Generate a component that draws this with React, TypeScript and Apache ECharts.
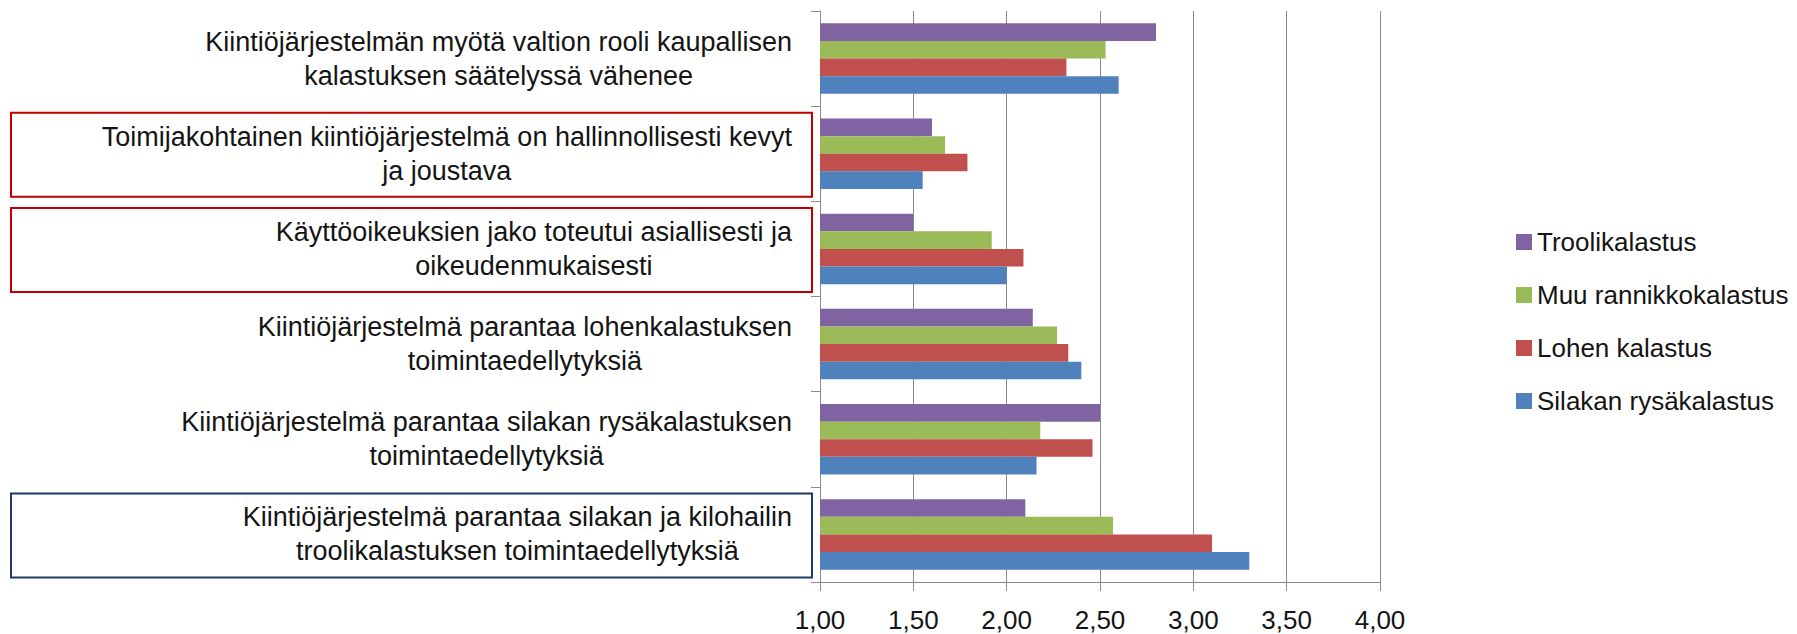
import React, { useEffect, useRef } from 'react';
import * as echarts from 'echarts';

const categories = [
  'Kiintiöjärjestelmän myötä valtion rooli kaupallisen\nkalastuksen säätelyssä vähenee',
  'Toimijakohtainen kiintiöjärjestelmä on hallinnollisesti kevyt\nja joustava',
  'Käyttöoikeuksien jako toteutui asiallisesti ja\noikeudenmukaisesti',
  'Kiintiöjärjestelmä parantaa lohenkalastuksen\ntoimintaedellytyksiä',
  'Kiintiöjärjestelmä parantaa silakan rysäkalastuksen\ntoimintaedellytyksiä',
  'Kiintiöjärjestelmä parantaa silakan ja kilohailin\ntroolikalastuksen toimintaedellytyksiä',
];

const seriesNames = ['Troolikalastus', 'Muu rannikkokalastus', 'Lohen kalastus', 'Silakan rysäkalastus'];
const troolikalastus = [2.8, 1.6, 1.5, 2.14, 2.5, 2.1];
const muuRannikkokalastus = [2.53, 1.67, 1.92, 2.27, 2.18, 2.57];
const lohenKalastus = [2.32, 1.79, 2.09, 2.33, 2.46, 3.1];
const silakanRysakalastus = [2.6, 1.55, 2.0, 2.4, 2.16, 3.3];

const axisMin = 1;
const axisMax = 4;
const axisInterval = 0.5;

const redBoxed = [1, 2];
const navyBoxed = [5];

const colors = ['#8064A2', '#9BBB59', '#C0504D', '#4F81BD'];
const FONT = "'Liberation Sans', Arial, sans-serif";

export default function App() {
  const ref = useRef<HTMLDivElement>(null);
  useEffect(() => {
    if (!ref.current) return;
    const chart = echarts.init(ref.current, null, { renderer: 'svg' });
    const values = [troolikalastus, muuRannikkokalastus, lohenKalastus, silakanRysakalastus];
    chart.setOption({
      animation: false,
      grid: { left: 820, right: 417, top: 11, bottom: 52 },
      legend: {
        orient: 'vertical',
        left: 1511,
        top: 222,
        itemWidth: 16,
        itemHeight: 16,
        itemGap: 23,
        icon: 'rect',
        data: seriesNames,
        textStyle: { fontFamily: FONT, fontSize: 26, lineHeight: 30, color: '#141414' },
      },
      xAxis: {
        type: 'value',
        min: axisMin,
        max: axisMax,
        interval: axisInterval,
        axisLine: { show: true, lineStyle: { color: '#8c8c8c', width: 1 } },
        axisTick: { show: true, length: 9, lineStyle: { color: '#8c8c8c' } },
        splitLine: { show: true, lineStyle: { color: '#8c8c8c', width: 1 } },
        axisLabel: {
          margin: 25,
          fontFamily: FONT,
          fontSize: 26,
          color: '#141414',
          formatter: (v: number) => v.toFixed(2).replace('.', ','),
        },
      },
      yAxis: {
        type: 'category',
        inverse: true,
        data: categories,
        axisLine: { show: true, lineStyle: { color: '#8c8c8c', width: 1 } },
        axisTick: { show: true, length: 9, lineStyle: { color: '#8c8c8c' } },
        axisLabel: {
          margin: 28,
          align: 'right',
          formatter: (v: string) => v.split('\n').map((l) => `{c|${l}}`).join('\n'),
          rich: {
            c: { align: 'center', fontFamily: FONT, fontSize: 27, lineHeight: 34, color: '#141414' },
          },
        },
      },
      series: seriesNames.map((name, i) => ({
        name,
        type: 'bar',
        data: values[i],
        barGap: '0%',
        barCategoryGap: '26%',
        itemStyle: { color: colors[i] },
      })),
    });
    const boxFor = (idx: number, color: string) => {
      const cy = chart.convertToPixel({ yAxisIndex: 0 }, idx) as unknown as number;
      return {
        type: 'rect',
        silent: true,
        shape: { x: 11, y: cy - 41, width: 801, height: 84 },
        style: { fill: 'none', stroke: color, lineWidth: 2 },
      };
    };
    chart.setOption({
      graphic: [
        ...redBoxed.map((i) => boxFor(i, '#C00000')),
        ...navyBoxed.map((i) => boxFor(i, '#1F3864')),
      ],
    });
    return () => chart.dispose();
  }, []);
  return <div ref={ref} style={{ position: 'absolute', left: 0, top: 0, width: 1797, height: 634 }} />;
}
